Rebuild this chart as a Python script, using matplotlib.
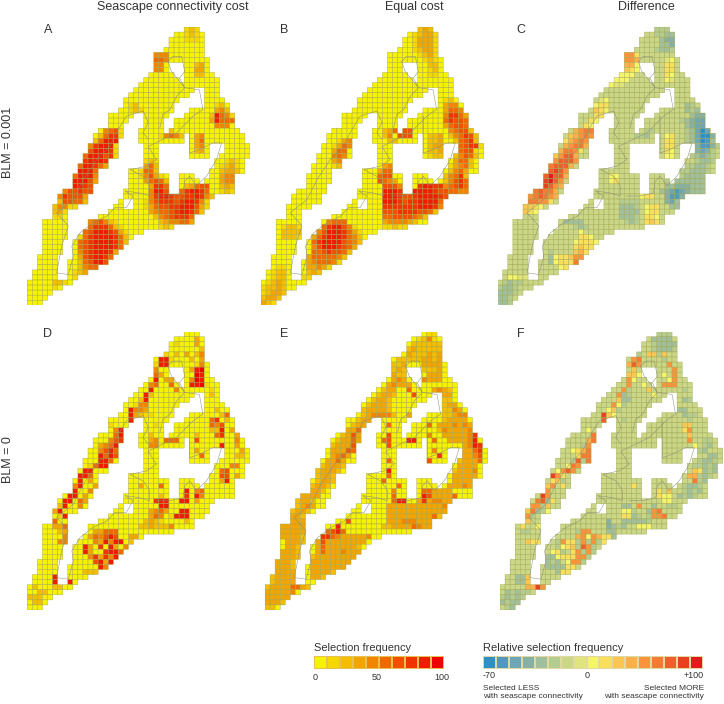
import numpy as np
import matplotlib
matplotlib.use("Agg")
import matplotlib.pyplot as plt
from matplotlib.colors import ListedColormap

plt.rcParams["font.family"] = ["Liberation Sans", "DejaVu Sans"]

W, H = 724, 704
CELL = 5.06
N_ROWS, N_COLS = 55, 44

# land cells per row: start, end, then hole start, hole end ...
ROW_SPANS = [
    (31, 33), (29, 34), (28, 34), (28, 34), (27, 34), (25, 34), (25, 35),
    (25, 35, 28, 30), (25, 35, 28, 30), (24, 36, 29, 30), (23, 37, 30, 30),
    (22, 37), (21, 37, 33, 34), (20, 37, 32, 34), (19, 38, 30, 34),
    (19, 39, 29, 34), (18, 39, 29, 31), (16, 40, 21, 22, 28, 30),
    (16, 40, 20, 22, 27, 28), (16, 40, 19, 22, 27, 28), (14, 41, 19, 21, 27, 27),
    (13, 42, 19, 21, 31, 31), (13, 42, 18, 21, 31, 31),
    (12, 43, 18, 22, 26, 31, 36, 38), (12, 43, 18, 22, 26, 31, 36, 38),
    (11, 43, 18, 22, 26, 31, 36, 37), (11, 42, 16, 22, 26, 36),
    (10, 42, 16, 22, 26, 36), (10, 42, 14, 19, 26, 35),
    (9, 40, 14, 19, 28, 29, 33, 35), (9, 40, 14, 19, 28, 29, 34, 34),
    (9, 40, 13, 19, 28, 29), (7, 40, 13, 18, 28, 29), (6, 36, 12, 18),
    (6, 35, 12, 17, 19, 20), (5, 35, 10, 16, 19, 20), (5, 34, 8, 15),
    (5, 32, 8, 13), (3, 32, 8, 11), (3, 28, 8, 11), (3, 22, 8, 10), (3, 20, 8, 9),
    (3, 19, 7, 8), (3, 18, 7, 8), (3, 17, 7, 8), (2, 16, 6, 8), (2, 15, 6, 7),
    (2, 13, 6, 7), (1, 11, 6, 7), (1, 9, 6, 7), (0, 8), (0, 6), (0, 4), (0, 3), (0, 2),
]

# each entry: row, first column, level of each cell from there
LEVELS_A = [
    (0, 31, "121"), (1, 31, "121"), (2, 31, "111"),
    (5, 25, "444"), (6, 25, "554"), (7, 25, "44"), (7, 33, "23"), (8, 25, "44"),
    (8, 33, "33"), (9, 33, "22"), (15, 20, "12"), (16, 20, "121"), (17, 36, "2321"),
    (15, 37, "12"), (16, 37, "342"), (17, 37, "8541"), (18, 36, "385553"),
    (19, 37, "444"), (20, 15, "4561"), (21, 14, "25771"), (22, 13, "25888"),
    (23, 12, "478881"), (24, 12, "688871"), (25, 11, "5888671"), (26, 11, "78887"),
    (27, 10, "588753"), (28, 10, "8885"), (29, 9, "58884"), (30, 9, "88863"),
    (31, 9, "8876"), (32, 7, "466766"), (33, 6, "476663"), (34, 6, "266552"),
    (35, 5, "24411"), (36, 5, "231"), (37, 5, "110"),
    (38, 12, "456421"), (39, 12, "5777521"), (40, 11, "568887631"),
    (41, 10, "15788887520"), (42, 10, "5678888752"), (43, 10, "567888875"),
    (44, 10, "46788873"), (45, 10, "3678875"), (46, 10, "256886"), (47, 10, "2455"),
    (48, 9, "123"), (49, 7, "  121"), (50, 5, "221"), (51, 5, "1"),
    (26, 23, "121"), (27, 23, "352"), (28, 22, "1552"), (29, 22, "14631"),
    (30, 23, "35652"), (31, 24, "3775"), (31, 31, "23566"), (32, 24, "4886"),
    (32, 30, "578875"), (33, 24, "4788766778742"), (34, 23, "1467776788741"),
    (35, 23, "1356677888631"), (36, 24, "34556788752"), (37, 25, "24567775"),
    (38, 26, "2344553"), (39, 26, "121"),
    (21, 26, "14542"), (20, 28, "2"), (21, 33, "34"), (22, 33, "35"), (23, 33, "34"),
    (24, 33, "23"), (26, 39, "121"), (27, 38, "1231"), (28, 38, "2332"),
    (29, 38, "344"), (30, 38, "344"), (31, 38, "232"), (32, 38, "121"),
]

LEVELS_B = [
    (0, 31, "232"), (1, 30, "12331"), (2, 30, "13331"), (3, 30, "13331"),
    (4, 30, "12331"), (5, 31, "1231"), (6, 32, "121"), (7, 33, "22"), (8, 33, "12"),
    (9, 33, "11"), (14, 36, "12"), (15, 36, "344"), (16, 36, "3554"),
    (17, 36, "47753"), (18, 36, "57665"), (19, 36, "356653"), (20, 37, "45662"),
    (21, 37, "245762"), (22, 38, "25672"), (23, 38, "256771"), (24, 38, "15661"),
    (25, 38, "24652"), (26, 38, "3552"), (27, 37, "13452"), (28, 37, "2453"),
    (29, 36, "24572"), (30, 36, "24675"), (31, 35, "245675"),
    (27, 24, "34"), (28, 23, "355"), (29, 23, "566"), (30, 23, "6543"),
    (31, 24, "6664"), (31, 31, "78877"), (32, 24, "8887"), (32, 30, "88887665544"),
    (33, 24, "8887667888876"), (34, 24, "888767788885"), (35, 24, "777777788874"),
    (36, 24, "66677776652"), (37, 24, "556666542"), (38, 24, "3444432"),
    (39, 24, "11211"), (18, 27, "23"), (19, 27, "23"), (20, 24, "23"), (20, 26, "5566"),
    (21, 24, "24"), (21, 27, "666"), (22, 25, "22"), (21, 33, "223"), (22, 33, "223"),
    (23, 33, "233"), (24, 33, "223"), (25, 33, "122"),
    (22, 15, "134"), (23, 14, "1354"), (24, 14, "355"), (25, 14, "454"), (26, 14, "34"),
    (27, 14, "12"), (39, 4, "1221"), (40, 4, "2222"), (41, 4, "2221"),
    (38, 13, "4555"), (39, 12, "5788641"), (40, 11, "468887531"), (41, 10, "3578887542"),
    (42, 10, "5788886542"), (43, 10, "468887653"), (44, 10, "55676652"),
    (45, 9, "35555542"), (46, 9, "3455541"), (47, 9, "33431"), (48, 9, "232"), (49, 8, "11"),
    (47, 3, "11"), (48, 2, "122"), (49, 2, "122"), (50, 1, "1232"), (51, 0, "12232"),
    (52, 0, "12332"), (53, 0, "2332"), (54, 0, "321"),
]

LEVELS_C = [
    (0, 31, "555"), (1, 29, "665544"), (2, 32, "433"), (3, 32, "443"), (4, 31, "5445"),
    (5, 25, "cc9"), (6, 25, "ccb"), (7, 25, "bb8"), (8, 25, "a98"), (9, 24, "888"),
    (10, 23, "888"), (11, 22, "877"), (6, 33, "78"), (7, 33, "99"), (8, 33, "99"),
    (9, 33, "98"), (10, 33, "87"), (14, 20, "78"), (15, 19, "899"), (16, 19, "a98"),
    (17, 19, "998"), (18, 18, "98"), (19, 17, "989"),
    (20, 15, "bcdd"), (21, 14, "abcdc"), (22, 13, "9bcdc9"), (23, 13, "bcddb"),
    (24, 12, "bddc9"), (25, 11, "aceeb"), (26, 11, "ceeec"), (27, 10, "deeeb"),
    (28, 10, "efec"), (29, 9, "egeeb"), (30, 9, "fgec"), (31, 8, "efecb"), (32, 7, "deddb"),
    (33, 6, "cdedcb"), (34, 6, "ddcc9"), (35, 5, "aa98"), (36, 5, "a98"),
    (15, 37, "45"), (16, 37, "454"), (17, 38, "4334"), (18, 36, "543223"), (19, 37, "43222"),
    (20, 37, "54202"), (21, 37, "542003"), (22, 37, "542014"), (23, 38, "531135"),
    (24, 38, "53235"), (25, 38, "54345"), (26, 39, "5445"), (27, 36, "555445"),
    (28, 36, "554445"), (29, 35, "554444"), (30, 33, "55444444"), (31, 33, "44333444"),
    (32, 32, "432123444"), (33, 33, "31134"), (34, 33, "324"), (35, 34, "44"),
    (21, 33, "89"), (22, 33, "99"), (23, 33, "99"), (24, 33, "98"), (25, 33, "88"),
    (34, 24, "5555"), (35, 24, "4445"), (36, 24, "4444"), (37, 24, "44456"), (38, 25, "5456"),
    (35, 29, "899"), (36, 29, "899"), (37, 29, "998"), (38, 29, "9a9"), (39, 29, "8"),
    (29, 22, "88"), (30, 22, "89"), (33, 28, "899"), (38, 13, "4444"), (39, 15, "545"),
    (44, 10, "5"), (45, 10, "4"), (46, 10, "4"),
    (45, 15, "ccb"), (46, 15, "dc"), (44, 15, "ab98"), (43, 15, "9a99"), (42, 15, "89998"),
    (41, 16, "998"), (40, 16, "8"), (47, 12, "8998"), (46, 11, "8999"), (45, 11, "899a"),
    (49, 2, "8877"), (50, 1, "5455"), (51, 0, "54456"), (52, 0, "44456"), (53, 0, "4456"),
    (54, 0, "445"), (20, 29, "55"), (21, 27, "554"),
]

LEVELS_D = [
    (1, 33, "3"), (2, 29, "1"), (2, 33, "3"), (3, 34, "2"), (4, 27, "1"), (4, 29, "2"),
    (4, 31, "3"), (4, 33, "24"), (5, 26, "881"), (5, 32, "2"), (5, 34, "3"), (6, 25, "188"),
    (6, 33, "14"), (7, 25, "4"), (7, 32, "389"), (8, 25, "53"), (8, 33, "98"), (9, 25, "8"),
    (9, 27, "33"), (9, 32, "498"), (10, 24, "45"), (10, 28, "5"), (10, 32, "8891"),
    (11, 24, "8"), (11, 29, "4"), (11, 36, "1"), (12, 23, "82"), (12, 36, "2"),
    (13, 22, "28"), (14, 21, "144"), (15, 20, "8443"), (15, 37, "2"), (16, 20, "83211"),
    (16, 38, "25"), (17, 20, "811"), (17, 36, "57"), (17, 39, "2"), (18, 16, "1"),
    (18, 25, "1"), (18, 36, "546"), (19, 17, "48"), (19, 36, "228"), (19, 40, "3"),
    (20, 17, "58"), (20, 24, "2"), (20, 27, "3"), (20, 33, "2"), (20, 37, "57"), (20, 41, "3"),
    (21, 16, "467"), (21, 24, "34"), (21, 27, "555"), (21, 33, "6"), (21, 41, "4"),
    (22, 14, "34588"), (22, 24, "44"), (22, 38, "8"), (22, 41, "3"), (23, 14, "4685"),
    (23, 33, "3"), (23, 42, "3"), (24, 14, "8586"), (24, 34, "5"), (24, 41, "22"),
    (25, 14, "885"), (26, 12, "1588"), (26, 40, "44"), (27, 11, "88"), (27, 38, "56"),
    (28, 10, "885"), (28, 38, "66"), (28, 41, "3"), (29, 10, "8"), (29, 12, "3"), (29, 38, "38"),
    (30, 9, "48"), (30, 13, "3"), (30, 22, "3"), (30, 26, "5"), (31, 8, "88"), (31, 12, "4"),
    (31, 31, "8"), (31, 33, "45"), (32, 8, "88"), (32, 11, "3"), (32, 26, "2"), (32, 31, "7"),
    (32, 33, "84"), (33, 7, "88"), (33, 10, "53"), (33, 25, "788"), (33, 30, "88"), (33, 33, "3"),
    (34, 6, "28"), (34, 10, "4"), (34, 26, "88"), (35, 5, "38"), (35, 24, "3453"), (35, 30, "88"),
    (36, 6, "18"), (36, 24, "354"), (36, 28, "1888"), (37, 5, "5"), (37, 23, "2321"), (37, 31, "2"),
    (37, 34, "3"), (38, 5, "335"), (38, 22, "2232224"), (39, 6, "23"), (39, 13, "33555"),
    (40, 7, "4"), (40, 12, "354686"), (40, 20, "33"), (41, 6, "44"), (41, 13, "438488"), (41, 20, "2"),
    (42, 11, "83"), (42, 14, "7"), (42, 16, "83"), (42, 19, "4"), (43, 11, "83"), (43, 15, "7885"),
    (44, 12, "4737482"), (45, 13, "68383"), (46, 14, "84"), (47, 11, "2223"), (48, 5, "8"),
    (49, 5, "8388"), (49, 10, "1"), (50, 1, "2"), (50, 5, "22"), (51, 2, "22"), (52, 0, "222"),
    (53, 1, "22"),
]

LEVELS_E = [
    (0, 31, "011"), (1, 30, "1241"), (2, 28, "0222222"), (3, 28, "2322222"),
    (4, 27, "032223230"), (5, 25, "02222233230"), (6, 25, "22300033330"), (7, 25, "232"),
    (7, 31, "2223"), (8, 25, "322"), (8, 32, "333"), (9, 25, "343"), (9, 31, "4333"),
    (10, 24, "34333"), (11, 23, "233"), (11, 28, "5"), (11, 33, "3432"), (12, 22, "2332"),
    (12, 29, "6"), (12, 35, "33"), (13, 21, "2332"), (13, 35, "22"), (14, 20, "23332"),
    (14, 35, "233"), (15, 19, "233332"), (15, 35, "2243"), (16, 19, "2344442"), (16, 28, "3"),
    (16, 35, "22344"), (17, 18, "233"), (17, 35, "23333"), (18, 17, "233"), (18, 24, "5"),
    (18, 27, "6"), (18, 32, "5"), (18, 34, "3334343"), (19, 16, "3352"), (19, 27, "7"),
    (19, 34, "2433334"), (20, 15, "2363"), (20, 24, "6"), (20, 27, "7"), (20, 32, "4"),
    (20, 35, "3333347"), (21, 14, "23353"), (21, 23, "56"), (21, 28, "88"), (21, 33, "5"),
    (21, 36, "333348"), (22, 13, "233363"), (22, 24, "6"), (22, 39, "3487"), (23, 13, "33365"),
    (23, 33, "4"), (23, 38, "33357"), (24, 13, "3453"), (24, 34, "7"), (24, 38, "33346"),
    (25, 12, "3353"), (25, 24, "5"), (25, 32, "6"), (25, 38, "23335"), (26, 11, "23332"),
    (26, 38, "3333"), (27, 10, "23332"), (27, 24, "8"), (27, 37, "23334"), (28, 10, "2332"),
    (28, 24, "5"), (28, 37, "33333"), (29, 10, "2332"), (29, 23, "5"), (29, 37, "3333"),
    (30, 9, "2332"), (30, 26, "5"), (30, 36, "33343"), (31, 8, "3332"), (31, 25, "4"),
    (31, 31, "553333"), (32, 7, "3333"), (32, 25, "5"), (32, 31, "8633335"), (33, 6, "2332"),
    (33, 25, "588"), (33, 30, "3734433"), (34, 6, "2343"), (34, 24, "3333333333342"),
    (35, 5, "2332"), (35, 24, "333333333333"), (36, 4, "2332"), (36, 24, "33333333352"),
    (37, 4, "33333"), (37, 16, "6"), (37, 24, "33344433342"), (38, 3, "33333"), (38, 14, "8"),
    (38, 23, "22333354332"), (39, 3, "33333"), (39, 12, "5685"), (40, 3, "33332"),
    (40, 11, "7754333334"), (41, 4, "3332"), (41, 10, "3633333333"), (42, 4, "332"),
    (42, 10, "353333332"), (43, 3, "3332"), (43, 10, "353334333"), (44, 3, "3332"),
    (44, 9, "233333333"), (45, 2, "3332"), (45, 9, "33333333"), (46, 2, "3332"),
    (46, 9, "3333333"), (47, 2, "3333"), (47, 9, "33332"), (48, 1, "23333"), (48, 9, "332"),
    (49, 1, "23333"), (50, 0, "233335532"), (51, 0, "333334"), (52, 0, "33333"),
    (53, 0, "3332"), (54, 0, "220"),
]

LEVELS_F = [
    (0, 31, "555"), (1, 30, "4444"), (2, 30, "54444"), (3, 30, "54445"), (4, 27, "5"),
    (4, 29, "aa5a"), (5, 26, "cd"), (5, 32, "5"), (6, 25, "bec"), (6, 33, "c"), (7, 26, "a"),
    (7, 34, "c"), (8, 25, "aa8"), (8, 32, "8"), (8, 34, "c"), (9, 25, "c8"), (9, 33, "8c"),
    (10, 25, "c"), (10, 28, "8"), (10, 32, "ccc"), (11, 24, "c5"), (11, 29, "a"), (11, 36, "5"),
    (12, 23, "c45"), (12, 30, "8"), (13, 23, "a44"), (13, 36, "45"), (14, 22, "c85"),
    (15, 21, "8a5"), (15, 35, "44"), (16, 20, "fa8"), (16, 36, "455"), (17, 20, "e"), (17, 24, "5"),
    (17, 37, "5"), (18, 20, "d"), (18, 36, "aa"), (19, 17, "8"), (19, 36, "9c"), (20, 18, "d"),
    (20, 37, "a"), (21, 17, "bd"), (21, 37, "c"), (21, 40, "55"), (22, 16, "5cd"), (22, 38, "8"),
    (22, 40, "54"), (23, 14, "89bdd"), (23, 39, "54"), (24, 15, "9dd"), (24, 41, "44"),
    (25, 14, "5e5d"), (25, 39, "5445"), (26, 13, "8dcc"), (26, 38, "55454"), (27, 11, "8cec"),
    (27, 38, "a9"), (27, 40, "454"), (28, 10, "fc9"), (28, 37, "bb5"), (28, 40, "45"),
    (29, 10, "9a5"), (29, 38, "d"), (29, 39, "54"), (30, 9, "ac"), (30, 12, "9"), (30, 26, "9"),
    (30, 36, "5445"), (31, 8, "fc"), (31, 31, "9"), (31, 33, "a"), (31, 36, "5454"), (32, 8, "fc"),
    (32, 31, "988"), (32, 35, "4545"), (33, 7, "de49"), (33, 32, "88"), (34, 6, "cc5a"),
    (34, 24, "44"), (34, 27, "c"), (34, 30, "4"), (34, 33, "55"), (35, 5, "ad458"), (35, 24, "885"),
    (35, 29, "4cd"), (36, 5, "c5"), (36, 24, "9945 5ccd"), (37, 5, "a"), (37, 21, "3"),
    (37, 24, "44444566"), (38, 4, "9"), (38, 7, "8"), (38, 21, "3454"), (38, 27, "888"),
    (39, 4, "55"), (39, 15, "5cc"), (39, 21, "44"), (40, 15, "bc8cb"), (40, 20, "994"),
    (41, 5, "a99"), (41, 11, "5c995c5c59"), (42, 7, "8"), (42, 11, "589a5ec5"),
    (43, 10, "895 9c5c55"), (44, 9, "44"), (44, 11, "8999cc5"), (45, 9, "45"), (45, 11, "4 8cc5"),
    (46, 9, "4444"), (46, 13, "99"), (47, 11, "499"), (48, 3, "44a"), (49, 3, "44a"),
    (50, 5, "bbfc"), (51, 1, "45455"), (52, 0, "54545"), (53, 0, "45445"), (54, 1, "54"),
]

BASE_SELECTION = 0
BASE_DIFFERENCE = 6

SELECTION_COLORS = ["#f6f200", "#f6d800", "#f4bd00", "#f2a400", "#f18500", "#f06800",
                    "#f05000", "#ef3400", "#ee1c00", "#ec0000"]
DIFFERENCE_COLORS = ["#2f90c6", "#5199bd", "#6fa6b3", "#87b0a5", "#a0bf9c", "#b5cc90",
                     "#c9d787", "#dfe47c", "#f5f56a", "#fadf5c", "#fdc652", "#fdb04a",
                     "#fb923c", "#f67a34", "#ef5f2a", "#e94020", "#e21a1c"]
LEVEL_CODES = "0123456789abcdefg"

# shore lines in cell units (column, row)
COAST_WEST = [(22.9, 16.6), (19.6, 17.6), (17.6, 20.9), (16.3, 23.6), (13.7, 26.2), (11.1, 30.1),
              (9.1, 34.1), (5.8, 36.7), (8.1, 39.3), (6.8, 43.3), (5.8, 48.6), (8.1, 48.9),
              (9.1, 45.3), (8.8, 43.3), (10.4, 40.7), (13, 38.7), (15.7, 37.4), (17.3, 35.7),
              (19.6, 35.7), (20.9, 33.4), (19.3, 32.4), (22.2, 32.8), (24.2, 33.4), (24.2, 31.4),
              (22.9, 29.5), (20.3, 28.2), (23.6, 27.5), (25.5, 26.2), (23.9, 23.6), (26.8, 22.2),
              (29.5, 20.9), (32.8, 17.6), (34.7, 16.3), (34, 12.4), (31.1, 12), (29.5, 13.7),
              (28.2, 16.3), (26.8, 17.3), (26.2, 19.9)]
COAST_TOP = [(27.8, 6.8), (28.8, 5.8), (30.5, 5.8), (31.1, 8.8), (30.1, 10.1), (31.1, 12),
             (28.5, 8.8), (27.8, 6.8)]
COAST_EAST = [(32.1, 17.6), (32.1, 24.9), (34.1, 24.2), (36.7, 22.9), (38.4, 22.9), (37.4, 26.2),
              (35.4, 29.5), (33.4, 31.4), (32.1, 29.5), (31.1, 30.5), (30.8, 32.8), (28.2, 33.4),
              (25.5, 33.4)]
COAST_MID = [(22.9, 16.6), (23.9, 18.9), (22.9, 20.9), (23.9, 22.2)]


def build_grid(entries, base):
    grid = np.full((N_ROWS, N_COLS), np.nan)
    for r, span in enumerate(ROW_SPANS):
        grid[r, span[0]:span[1] + 1] = base
        for i in range(2, len(span), 2):
            grid[r, span[i]:span[i + 1] + 1] = np.nan
    for r, c0, levels in entries:
        for k, ch in enumerate(levels):
            if ch != " " and c0 + k < N_COLS and not np.isnan(grid[r, c0 + k]):
                grid[r, c0 + k] = LEVEL_CODES.index(ch)
    return np.ma.masked_invalid(grid)


fig = plt.figure(figsize=(W / 100, H / 100), dpi=100)


def px_axes(x, y, w, h):
    ax = fig.add_axes([x / W, 1 - (y + h) / H, w / W, h / H])
    ax.axis("off")
    return ax


def label(x, y, s, size=9.0, **kw):
    fig.text(x / W, 1 - y / H, s, fontsize=size, color=kw.pop("color", "#333333"), **kw)


sel_cmap = ListedColormap(SELECTION_COLORS)
dif_cmap = ListedColormap(DIFFERENCE_COLORS)

panels = [
    (27.3, 27, LEVELS_A, BASE_SELECTION, sel_cmap),
    (261, 27, LEVELS_B, BASE_SELECTION, sel_cmap),
    (497.7, 27, LEVELS_C, BASE_DIFFERENCE, dif_cmap),
    (27.3, 331.7, LEVELS_D, BASE_SELECTION, sel_cmap),
    (265, 331.7, LEVELS_E, BASE_SELECTION, sel_cmap),
    (500, 331.7, LEVELS_F, BASE_DIFFERENCE, dif_cmap),
]

for x0, y0, entries, base, cmap in panels:
    ax = px_axes(x0, y0, N_COLS * CELL, N_ROWS * CELL)
    grid = build_grid(entries, base)
    # pcolor leaves masked cells out altogether, edges included
    mesh = ax.pcolor(np.arange(N_COLS + 1), np.arange(N_ROWS + 1), grid, cmap=cmap,
                     vmin=-0.5, vmax=cmap.N - 0.5, edgecolors="#a3a64e", linewidth=0.3,
                     antialiased=True)
    mesh.set_snap(False)
    for line in (COAST_WEST, COAST_TOP, COAST_EAST, COAST_MID):
        xs, ys = zip(*line)
        ax.plot(xs, ys, color="#8b8c78", lw=0.35)
    ax.set_xlim(0, N_COLS)
    ax.set_ylim(N_ROWS, 0)

# legends
ax = px_axes(314, 656, 130, 13)
ax.pcolormesh(np.arange(len(SELECTION_COLORS))[None, :], cmap=sel_cmap,
              vmin=-0.5, vmax=sel_cmap.N - 0.5, edgecolors="#e8c050", linewidth=0.2)
ax = px_axes(483, 656, 220, 13)
ax.pcolormesh(np.arange(len(DIFFERENCE_COLORS))[None, :], cmap=dif_cmap,
              vmin=-0.5, vmax=dif_cmap.N - 0.5, edgecolors="#e0d8a0", linewidth=0.2)

label(173, 7, "Seascape connectivity cost", ha="center", va="center")
label(414, 7, "Equal cost", ha="center", va="center")
label(646, 7, "Difference", ha="center", va="center")
for x, y, s in [(48, 30, "A"), (284, 30, "B"), (521, 30, "C"), (48, 334, "D"), (284, 334, "E"), (521, 334, "F")]:
    label(x, y, s, ha="center", va="center")
label(8, 142, "BLM = 0.001", rotation=90, ha="center", va="center")
label(8, 460, "BLM = 0", rotation=90, ha="center", va="center")

label(314, 648, "Selection frequency", size=7.9, ha="left", va="center")
label(483, 648, "Relative selection frequency", size=8.0, ha="left", va="center")
label(315, 678, "0", size=6.5, ha="center", va="center")
label(377, 678, "50", size=6.5, ha="center", va="center")
label(442, 678, "100", size=6.5, ha="center", va="center")
label(483, 675, "-70", size=6.5, ha="left", va="center")
label(587, 675, "0", size=6.5, ha="center", va="center")
label(704, 675, "+100", size=6.5, ha="right", va="center")
label(483, 689, "Selected LESS", size=6.0, ha="left", va="center")
label(483, 697, "with seascape connectivity", size=6.0, ha="left", va="center")
label(704, 689, "Selected MORE", size=6.0, ha="right", va="center")
label(704, 697, "with seascape connectivity", size=6.0, ha="right", va="center")

fig.savefig("out.png", dpi=100)
